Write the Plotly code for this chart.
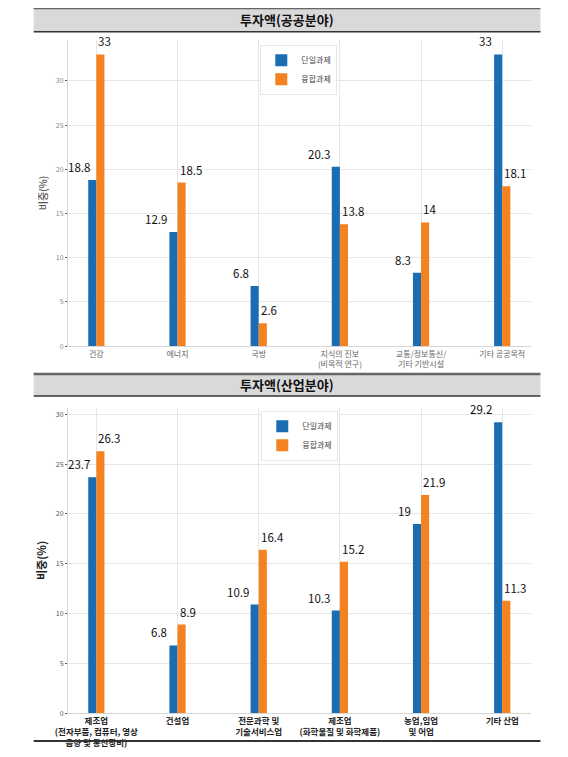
import plotly.graph_objects as go

top_categories = ["건강", "에너지", "국방", "지식의 진보<br>(비목적 연구)",
                  "교통/정보통신/<br>기타 기반시설", "기타 공공목적"]
top_single = [18.8, 12.9, 6.8, 20.3, 8.3, 33]
top_fusion = [33, 18.5, 2.6, 13.8, 14, 18.1]

bottom_categories = ["제조업<br>(전자부품, 컴퓨터, 영상<br>음향 및 통신장비)", "건설업",
                     "전문과학 및<br>기술서비스업", "제조업<br>(화학물질 및 화학제품)",
                     "농업,임업<br>및 어업", "기타 산업"]
bottom_single = [23.7, 6.8, 10.9, 10.3, 19, 29.2]
bottom_fusion = [26.3, 8.9, 16.4, 15.2, 21.9, 11.3]

series_names = ["단일과제", "융합과제"]
panel_titles = ["투자액(공공분야)", "투자액(산업분야)"]
y_title = "비중(%)"
y_ticks = [0, 5, 10, 15, 20, 25, 30]

# page body has an 8px margin; figure is sized to fit inside the window
M = 8
W, H = 568 - 2 * M, 757 - 2 * M
BLUE = "#1a6db3"
ORANGE = "#f58220"
FONT = "Noto Sans CJK KR"


def py(px):
    return 1 - (px - M) / H


def px_x(px):
    return (px - M) / W


fig = go.Figure()
bw = 0.1
panels = [
    (top_categories, top_single, top_fusion, "x", "y", "legend"),
    (bottom_categories, bottom_single, bottom_fusion, "x2", "y2", "legend2"),
]
annotations = []
for pi, (cats, s1, s2, xa, ya, lg) in enumerate(panels):
    xs = list(range(len(cats)))
    fig.add_trace(go.Bar(x=xs, y=s1, name=series_names[0], marker_color=BLUE,
                         width=bw, offset=-bw, xaxis=xa, yaxis=ya, legend=lg,
                         marker_line_width=0))
    fig.add_trace(go.Bar(x=xs, y=s2, name=series_names[1], marker_color=ORANGE,
                         width=bw, offset=0, xaxis=xa, yaxis=ya, legend=lg,
                         marker_line_width=0))
    for i in xs:
        annotations.append(dict(x=i - bw, y=s1[i], xref=xa, yref=ya, text=str(s1[i]),
                                showarrow=False, xanchor="right", yanchor="bottom",
                                yshift=3, xshift=4 if i == 0 else 0,
                                font=dict(size=11.5, color="#111", family=FONT)))
        annotations.append(dict(x=i, y=s2[i], xref=xa, yref=ya, text=str(s2[i]),
                                showarrow=False, xanchor="left", yanchor="bottom",
                                yshift=3, font=dict(size=11.5, color="#111", family=FONT)))

axis_common = dict(showgrid=True, gridcolor="#e6e6e6", gridwidth=1, zeroline=False,
                   showline=True, linecolor="#d6d6d6", linewidth=1)

fig.update_layout(
    width=W, height=H, margin=dict(l=0, r=0, t=0, b=0),
    paper_bgcolor="white", plot_bgcolor="white",
    barmode="overlay", font=dict(family=FONT),
    xaxis=dict(domain=[px_x(57), px_x(530)], anchor="y", range=[-0.35, 5.35],
               tickvals=list(range(6)), ticktext=top_categories,
               tickfont=dict(size=8, color="#666"), ticks="", **axis_common),
    yaxis=dict(domain=[py(348), py(40)], anchor="x", range=[0, 33 * 1.05],
               tickvals=y_ticks, tickfont=dict(size=7, color="#888"),
               ticks="outside", ticklen=2, tickcolor="#555",
               title=dict(text=y_title, font=dict(size=10, color="#333"), standoff=6),
               **axis_common),
    xaxis2=dict(domain=[px_x(57), px_x(530)], anchor="y2", range=[-0.35, 5.35],
                tickvals=list(range(6)), ticktext=bottom_categories,
                tickfont=dict(size=8.5, color="#222", weight=600), ticks="",
                **axis_common),
    yaxis2=dict(domain=[py(717), py(410)], anchor="x2", range=[0, 29.2 * 1.05],
                tickvals=y_ticks, tickfont=dict(size=7, color="#555"),
                ticks="outside", ticklen=2, tickcolor="#555",
                title=dict(text=y_title, font=dict(size=11, color="#222", weight=600),
                           standoff=6),
                **axis_common),
    legend=dict(x=px_x(293), xanchor="center", y=py(45), yanchor="top",
                bgcolor="white", bordercolor="#e6e6e6", borderwidth=1,
                font=dict(size=8, color="#444"), itemwidth=30, tracegroupgap=0),
    legend2=dict(x=px_x(294), xanchor="center", y=py(413), yanchor="top",
                 bgcolor="white", bordercolor="#e6e6e6", borderwidth=1,
                 font=dict(size=8, color="#444"), itemwidth=30, tracegroupgap=0),
    showlegend=True,
)

shapes = []
for (top, bot, title_y), title in zip([(8, 32, 20), (376, 398, 387)], panel_titles):
    shapes.append(dict(type="rect", xref="paper", yref="paper",
                       x0=px_x(22), x1=px_x(540), y0=py(bot), y1=py(top),
                       fillcolor="#d9d9d9", line=dict(width=0), layer="below"))
    shapes.append(dict(type="line", xref="paper", yref="paper",
                       x0=px_x(22), x1=px_x(540), y0=py(top), y1=py(top),
                       line=dict(color="#666", width=2.5)))
    shapes.append(dict(type="line", xref="paper", yref="paper",
                       x0=px_x(22), x1=px_x(540), y0=py(bot), y1=py(bot),
                       line=dict(color="#333", width=1.5)))
    annotations.append(dict(x=px_x(281), y=py(title_y), xref="paper", yref="paper",
                            text="<b>" + title + "</b>", showarrow=False,
                            xanchor="center", yanchor="middle",
                            font=dict(size=13, color="#111", family=FONT)))
shapes.append(dict(type="line", xref="paper", yref="paper",
                   x0=px_x(22), x1=px_x(540), y0=py(745), y1=py(745),
                   line=dict(color="#333", width=2)))
fig.update_layout(shapes=shapes, annotations=annotations)

fig.write_html("out.html")
